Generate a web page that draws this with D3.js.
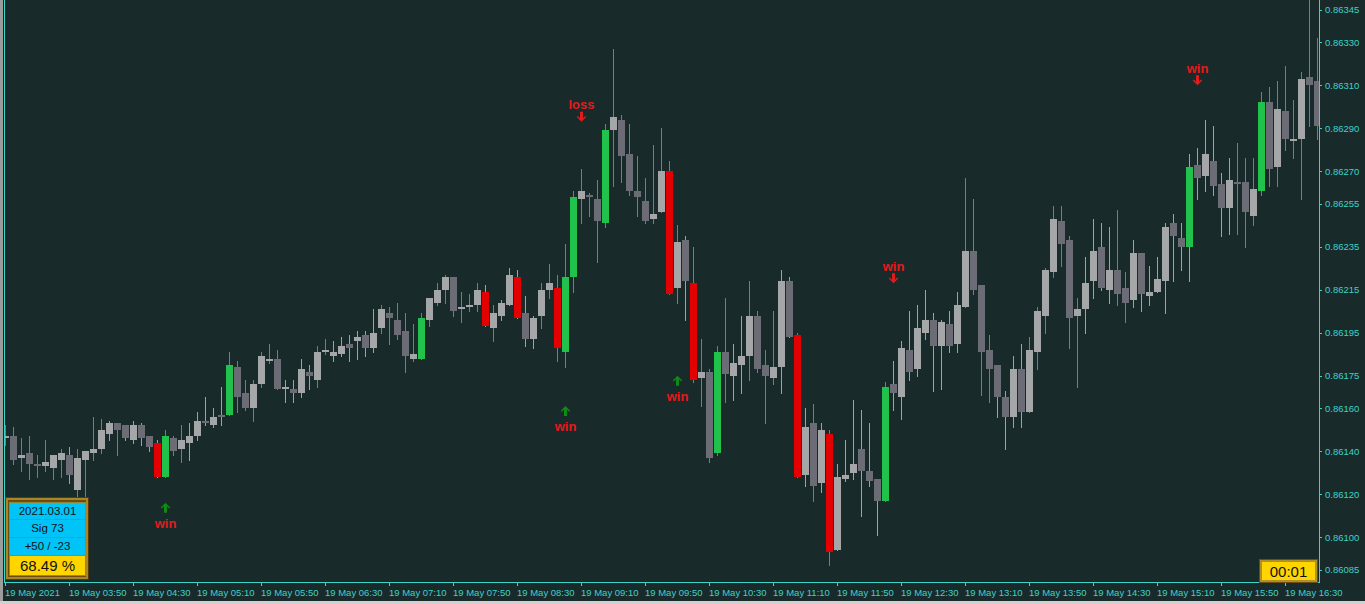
<!DOCTYPE html>
<html><head><meta charset="utf-8">
<script src="https://cdn.jsdelivr.net/npm/d3@7"></script>
<style>
html,body{margin:0;padding:0;background:#192a2b;overflow:hidden}
svg{display:block}
</style></head><body>
<svg id="c" width="1365" height="604"></svg>
<script>
const opens=[
0.86146,0.86147,0.86137,0.86139,0.86134,0.86133,0.86132,0.86136,0.86138,0.86122,
0.86136,0.86139,0.86141,0.86148,0.86153,0.86152,0.86145,0.86152,0.86147,0.86144,
0.86128,0.86146,0.86141,0.86144,0.86147,0.86154,0.86152,0.86157,0.86157,0.86179,
0.86167,0.86160,0.86171,0.86182,0.86183,0.86169,0.86169,0.86167,0.86177,0.86173,
0.86186,0.86184,0.86185,0.86190,0.86191,0.86194,0.86188,0.86197,0.86204,0.86201,
0.86196,0.86183,0.86183,0.86201,0.86209,0.86215,0.86221,0.86206,0.86207,0.86208,
0.86214,0.86197,0.86203,0.86208,0.86221,0.86204,0.86192,0.86203,0.86215,0.86216,
0.86186,0.86221,0.86257,0.86259,0.86257,0.86246,0.86289,0.86294,0.86278,0.86261,
0.86256,0.86248,0.86251,0.86270,0.86216,0.86238,0.86218,0.86174,0.86177,0.86139,
0.86186,0.86175,0.86180,0.86184,0.86203,0.86180,0.86174,0.86179,0.86219,0.86194,
0.86129,0.86153,0.86125,0.86148,0.86094,0.86127,0.86130,0.86141,0.86131,0.86127,
0.86117,0.86171,0.86165,0.86187,0.86178,0.86195,0.86201,0.86189,0.86199,0.86190,
0.86207,0.86233,0.86217,0.86187,0.86180,0.86165,0.86156,0.86178,0.86158,0.86186,
0.86203,0.86223,0.86247,0.86238,0.86203,0.86206,0.86219,0.86235,0.86215,0.86224,
0.86216,0.86210,0.86232,0.86212,0.86214,0.86219,0.86246,0.86239,0.86235,0.86273,
0.86268,0.86275,0.86264,0.86253,0.86265,0.86265,0.86249,0.86261,0.86302,0.86272,
0.86298,0.86284,0.86285,0.86314,0.86312];
const highs=[
0.86152,0.86151,0.86146,0.86147,0.86138,0.86145,0.86138,0.86141,0.86142,0.86141,
0.86140,0.86156,0.86155,0.86154,0.86153,0.86152,0.86154,0.86153,0.86147,0.86145,
0.86150,0.86147,0.86152,0.86153,0.86158,0.86165,0.86160,0.86170,0.86186,0.86182,
0.86173,0.86173,0.86186,0.86190,0.86187,0.86173,0.86173,0.86183,0.86180,0.86189,
0.86192,0.86191,0.86193,0.86194,0.86196,0.86196,0.86206,0.86208,0.86207,0.86209,
0.86204,0.86199,0.86204,0.86211,0.86218,0.86222,0.86221,0.86214,0.86213,0.86218,
0.86217,0.86208,0.86210,0.86225,0.86224,0.86212,0.86203,0.86218,0.86227,0.86222,
0.86236,0.86261,0.86271,0.86260,0.86266,0.86292,0.86327,0.86296,0.86292,0.86277,
0.86267,0.86282,0.86290,0.86275,0.86245,0.86240,0.86235,0.86192,0.86178,0.86189,
0.86211,0.86190,0.86203,0.86219,0.86205,0.86187,0.86205,0.86224,0.86221,0.86195,
0.86160,0.86162,0.86153,0.86150,0.86134,0.86145,0.86164,0.86159,0.86153,0.86127,
0.86172,0.86182,0.86191,0.86205,0.86208,0.86215,0.86204,0.86201,0.86205,0.86214,
0.86267,0.86257,0.86217,0.86194,0.86180,0.86168,0.86184,0.86190,0.86193,0.86207,
0.86225,0.86254,0.86254,0.86240,0.86211,0.86230,0.86248,0.86246,0.86244,0.86252,
0.86223,0.86238,0.86232,0.86226,0.86230,0.86246,0.86250,0.86246,0.86278,0.86281,
0.86294,0.86291,0.86269,0.86276,0.86283,0.86276,0.86276,0.86307,0.86309,0.86312,
0.86319,0.86303,0.86316,0.86350,0.86332];
const lows=[
0.86143,0.86134,0.86131,0.86127,0.86128,0.86131,0.86127,0.86128,0.86125,0.86119,
0.86119,0.86136,0.86139,0.86145,0.86138,0.86145,0.86144,0.86143,0.86140,0.86128,
0.86128,0.86138,0.86135,0.86136,0.86145,0.86152,0.86151,0.86152,0.86157,0.86158,
0.86159,0.86154,0.86170,0.86181,0.86169,0.86163,0.86163,0.86165,0.86169,0.86170,
0.86185,0.86182,0.86184,0.86182,0.86183,0.86184,0.86186,0.86195,0.86190,0.86192,
0.86177,0.86182,0.86183,0.86198,0.86208,0.86209,0.86203,0.86200,0.86205,0.86205,
0.86198,0.86191,0.86201,0.86208,0.86202,0.86189,0.86188,0.86197,0.86211,0.86182,
0.86179,0.86214,0.86246,0.86249,0.86228,0.86244,0.86263,0.86265,0.86259,0.86249,
0.86246,0.86246,0.86251,0.86213,0.86209,0.86201,0.86172,0.86161,0.86135,0.86138,
0.86163,0.86164,0.86167,0.86173,0.86177,0.86153,0.86171,0.86167,0.86193,0.86128,
0.86124,0.86117,0.86121,0.86087,0.86094,0.86126,0.86127,0.86110,0.86124,0.86101,
0.86117,0.86159,0.86155,0.86173,0.86175,0.86192,0.86168,0.86169,0.86186,0.86186,
0.86207,0.86213,0.86166,0.86163,0.86156,0.86141,0.86151,0.86151,0.86158,0.86178,
0.86195,0.86221,0.86226,0.86188,0.86170,0.86195,0.86211,0.86215,0.86209,0.86208,
0.86200,0.86207,0.86205,0.86208,0.86214,0.86204,0.86219,0.86224,0.86219,0.86257,
0.86261,0.86259,0.86240,0.86241,0.86241,0.86235,0.86245,0.86259,0.86263,0.86263,
0.86280,0.86276,0.86257,0.86291,0.86285];
const closes=[
0.86147,0.86136,0.86138,0.86134,0.86133,0.86135,0.86138,0.86139,0.86129,0.86137,
0.86140,0.86141,0.86150,0.86153,0.86150,0.86146,0.86152,0.86146,0.86142,0.86128,
0.86147,0.86140,0.86145,0.86147,0.86154,0.86153,0.86156,0.86156,0.86180,0.86165,
0.86160,0.86171,0.86184,0.86183,0.86169,0.86170,0.86167,0.86178,0.86175,0.86186,
0.86187,0.86186,0.86189,0.86188,0.86193,0.86188,0.86195,0.86206,0.86202,0.86194,
0.86184,0.86185,0.86202,0.86211,0.86215,0.86221,0.86205,0.86207,0.86208,0.86215,
0.86198,0.86204,0.86209,0.86222,0.86202,0.86192,0.86202,0.86215,0.86218,0.86188,
0.86221,0.86258,0.86261,0.86258,0.86247,0.86289,0.86295,0.86277,0.86261,0.86258,
0.86247,0.86250,0.86270,0.86213,0.86237,0.86219,0.86173,0.86177,0.86137,0.86186,
0.86176,0.86181,0.86184,0.86203,0.86178,0.86175,0.86179,0.86219,0.86193,0.86128,
0.86151,0.86124,0.86150,0.86093,0.86128,0.86129,0.86134,0.86131,0.86126,0.86117,
0.86170,0.86167,0.86188,0.86177,0.86197,0.86201,0.86189,0.86200,0.86189,0.86208,
0.86233,0.86215,0.86186,0.86178,0.86165,0.86156,0.86178,0.86158,0.86187,0.86205,
0.86224,0.86248,0.86236,0.86202,0.86206,0.86218,0.86233,0.86216,0.86224,0.86213,
0.86209,0.86232,0.86213,0.86214,0.86220,0.86244,0.86240,0.86235,0.86272,0.86267,
0.86278,0.86263,0.86253,0.86266,0.86264,0.86251,0.86262,0.86302,0.86271,0.86299,
0.86285,0.86285,0.86313,0.86310,0.86291];
// wick tone per candle: o = orange, g = grey
const wickTone=("oooooooogo"+"ooogoggggg"+"ooogggggoo"+"oooooggggo"+"oggggggooo"+
"oooooooooo"+"gogggggooo"+"oooooooooo"+"ooooogoooo"+"oggooooggo"+"gogogggggg"+
"oggggggggg"+"ooooggggoo"+"oooooggggo"+"oggggggggg"+"ggggoooooo"+"ooooo").split("");
const signalUpBars=[20,28,52,70,71,75,89,110,148,157];
const signalDownBars=[19,60,64,69,83,86,99,103];
const timeTickBars=[0,8,16,24,32,40,48,56,64,72,80,88,96,104,112,120,128,136,144,152,160];
const timeTickLabels=["19 May 2021","19 May 03:50","19 May 04:30","19 May 05:10","19 May 05:50",
"19 May 06:30","19 May 07:10","19 May 07:50","19 May 08:30","19 May 09:10","19 May 09:50",
"19 May 10:30","19 May 11:10","19 May 11:50","19 May 12:30","19 May 13:10","19 May 13:50",
"19 May 14:30","19 May 15:10","19 May 15:50","19 May 16:30"];
const priceTicks=[0.86345,0.86330,0.86310,0.86290,0.86270,0.86255,0.86235,0.86215,0.86195,
0.86175,0.86160,0.86140,0.86120,0.86100,0.86085];
const markerBars=[20,70,72,84,111,149];
const markerPrices=[0.86116,0.86161,0.86293,0.86175,0.86218,0.86310];
const markerDirs=["up","up","down","up","down","down"];
const markerTexts=["win","win","loss","win","win","win"];
const infoRows=["2021.03.01","Sig  73","+50 / -23","68.49 %"];
const timerText="00:01";

const C={bg:"#192a2b",axis:"#3dd3c6",light:"#a4a6a8",dark:"#6b6c76",red:"#e20000",green:"#20c24b",
 wickO:"#e35a1f",wickG:"#a0a2a4",mark:"#e21c1c",arrowUp:"#0f8a14"};

const svg=d3.select("#c");
svg.append("rect").attr("width",1365).attr("height",604).attr("fill",C.bg);

const x=d3.scaleLinear().domain([0,164]).range([5.5,1317.5]);
const y=d3.scaleLinear().domain([0.86085,0.86345]).range([569.6,9.8]);

svg.append("defs").append("clipPath").attr("id","plot").append("rect")
  .attr("x",5).attr("y",0).attr("width",1314).attr("height",582);

const g=svg.append("g").attr("clip-path","url(#plot)").attr("shape-rendering","crispEdges");
const idx=d3.range(opens.length);
const upSet=new Set(signalUpBars), dnSet=new Set(signalDownBars);
const bodyColor=i=>upSet.has(i)?C.green:dnSet.has(i)?C.red:(closes[i]>=opens[i]?C.light:C.dark);

g.selectAll("line.w").data(idx).join("line").attr("class","w")
 .attr("x1",i=>Math.floor(x(i))+0.5).attr("x2",i=>Math.floor(x(i))+0.5)
 .attr("y1",i=>Math.round(y(highs[i]))).attr("y2",i=>Math.round(y(lows[i]))+1)
 .attr("stroke",i=>wickTone[i]==="o"?C.wickO:C.wickG).attr("stroke-width",1);

g.selectAll("rect.b").data(idx).join("rect").attr("class","b")
 .attr("x",i=>Math.floor(x(i))-3).attr("width",7)
 .attr("y",i=>Math.round(y(Math.max(opens[i],closes[i]))))
 .attr("height",i=>Math.max(1,Math.round(y(Math.min(opens[i],closes[i])))-Math.round(y(Math.max(opens[i],closes[i])))))
 .attr("fill",bodyColor);

// markers
const arrowUp="M0,0 L4.5,4.5 L4.5,5.5 L3.5,5.5 L1.5,3.5 L1.5,10 L-1.5,10 L-1.5,3.5 L-3.5,5.5 L-4.5,5.5 L-4.5,4.5 Z";
const arrowDn="M0,0 L4.5,-4.5 L4.5,-5.5 L3.5,-5.5 L1.5,-3.5 L1.5,-10 L-1.5,-10 L-1.5,-3.5 L-3.5,-5.5 L-4.5,-5.5 L-4.5,-4.5 Z";
const mk=svg.append("g");
markerBars.forEach((b,k)=>{
  const cx=Math.floor(x(b))+0.5, ty=y(markerPrices[k]);
  const up=markerDirs[k]==="up";
  mk.append("path").attr("d",up?arrowUp:arrowDn).attr("transform",`translate(${cx},${ty})`)
    .attr("fill",up?C.arrowUp:C.mark);
  mk.append("text").attr("x",cx).attr("y",up?ty+25.5:ty-12.5).attr("text-anchor","middle")
    .attr("font-family","Liberation Sans, Arial, sans-serif").attr("font-weight","bold")
    .attr("font-size",13).attr("fill",C.mark).text(markerTexts[k]);
});

// axes
const yAxis=d3.axisRight(y).tickValues(priceTicks).tickFormat(d3.format(".5f")).tickSize(3).tickSizeOuter(0).tickPadding(3);
const ya=svg.append("g").attr("transform","translate(1319,0)").call(yAxis);
ya.select(".domain").remove();
ya.selectAll("line").attr("stroke",C.axis).attr("shape-rendering","crispEdges");
ya.selectAll("text").attr("fill",C.axis).attr("font-family","Liberation Sans, Arial, sans-serif").attr("font-size",9.5);

const xAxis=d3.axisBottom(x).tickValues(timeTickBars).tickFormat((d,i)=>timeTickLabels[i]).tickSize(4).tickSizeOuter(0).tickPadding(3);
const xa=svg.append("g").attr("transform","translate(0,582)").call(xAxis);
xa.select(".domain").remove();
xa.selectAll(".tick").attr("transform",d=>`translate(${Math.floor(x(d))+0.5},0)`);
xa.selectAll("line").attr("stroke",C.axis).attr("shape-rendering","crispEdges");
xa.selectAll("text").attr("fill",C.axis).attr("text-anchor","start").attr("x",-0.5)
  .attr("font-family","Liberation Sans, Arial, sans-serif").attr("font-size",9.5);

const frame=svg.append("g").attr("shape-rendering","crispEdges");
frame.append("line").attr("x1",4.5).attr("x2",4.5).attr("y1",0).attr("y2",583).attr("stroke",C.axis);
frame.append("line").attr("x1",1319.5).attr("x2",1319.5).attr("y1",0).attr("y2",583).attr("stroke",C.axis);
frame.append("line").attr("x1",4).attr("x2",1320).attr("y1",582.5).attr("y2",582.5).attr("stroke",C.axis);
frame.append("rect").attr("x",0).attr("y",0).attr("width",3).attr("height",604).attr("fill","#9c9c9c");
frame.append("rect").attr("x",0).attr("y",601).attr("width",1365).attr("height",3).attr("fill","#d0d0d0");

// info panel
const ip=svg.append("g").attr("shape-rendering","crispEdges");
ip.append("rect").attr("x",5).attr("y",497).attr("width",84).attr("height",83).attr("fill","#5a3a0c");
ip.append("rect").attr("x",6).attr("y",498).attr("width",82).attr("height",81).attr("fill","#a8872a");
ip.append("rect").attr("x",8).attr("y",500).attr("width",78).attr("height",77).attr("fill","#6e4c10");
const rowY=[502,519,537,555,575];
infoRows.forEach((t,k)=>{
  ip.append("rect").attr("x",9.5).attr("y",rowY[k]+0.5).attr("width",76).attr("height",rowY[k+1]-rowY[k])
    .attr("fill",k===3?"#ffd500":"#00c3f8").attr("stroke","#8d8a3a").attr("stroke-width",1);
  ip.append("text").attr("x",47.5).attr("y",(rowY[k]+rowY[k+1])/2+(k===3?5.5:4))
    .attr("text-anchor","middle").attr("font-family","Liberation Sans, Arial, sans-serif")
    .attr("font-size",k===3?15:11.5).attr("fill","#111").text(t);
});

// timer box
const tb=svg.append("g").attr("shape-rendering","crispEdges");
tb.append("rect").attr("x",1259).attr("y",559).attr("width",59).attr("height",24).attr("fill","#6e4c10");
tb.append("rect").attr("x",1260).attr("y",560).attr("width",57).attr("height",22).attr("fill","#b0902c");
tb.append("rect").attr("x",1262).attr("y",562).attr("width",53).attr("height",18).attr("fill","#ffd500");
tb.append("text").attr("x",1288.5).attr("y",576.5).attr("text-anchor","middle")
  .attr("font-family","Liberation Sans, Arial, sans-serif").attr("font-size",15).attr("fill","#111").text(timerText);
</script>
</body></html>
